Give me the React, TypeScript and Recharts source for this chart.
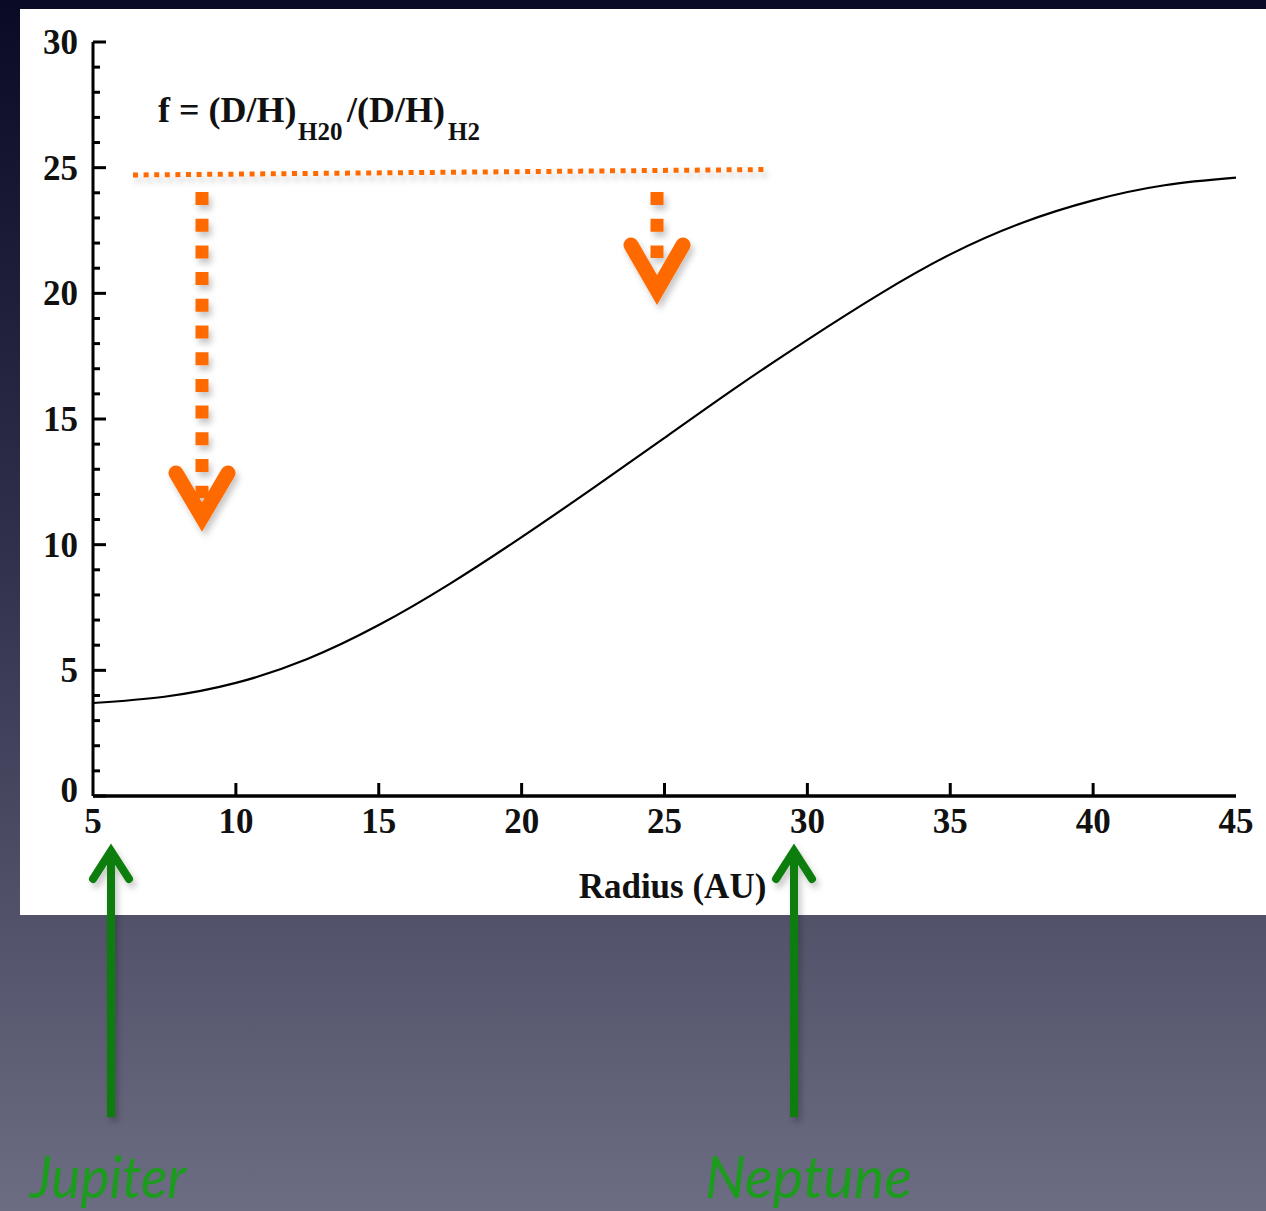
import React from 'react'
import { LineChart, Line, XAxis, YAxis, Label } from 'recharts'

// f = (D/H)H2O / (D/H)H2 against radius in AU
const radius = [5, 7.5, 10, 12.5, 15, 17.5, 20, 22.5, 25, 27.5, 30, 32.5, 35, 37.5, 40, 42.5, 45]
const fRatio = [3.7, 3.95, 4.5, 5.45, 6.8, 8.45, 10.3, 12.25, 14.25, 16.25, 18.15, 19.95, 21.55, 22.8, 23.7, 24.3, 24.6]

const xTicks = [5, 10, 15, 20, 25, 30, 35, 40, 45]
const yTicks = [
  0, 1, 2, 3, 4, 5, 6, 7, 8, 9, 10, 11, 12, 13, 14, 15, 16, 17, 18, 19, 20,
  21, 22, 23, 24, 25, 26, 27, 28, 29, 30,
]

const data = radius.map((r, i) => ({ r, f: fRatio[i] }))

const W = 1266
const H = 1211
const SERIF = '"Liberation Serif", "Times New Roman", serif'
const ORANGE = '#ff6a00'
const GREEN = '#0c7d0c'

const labelStyle = {
  fontFamily: SERIF,
  fontWeight: 700,
  fontSize: 35,
  fill: '#111',
}

function BottomTick(props: any) {
  const { x, y, payload } = props
  const v = payload.value
  const inner = v !== 5 && v !== 45
  return (
    <g>
      {inner && <line x1={x} y1={y} x2={x} y2={y - 13} stroke="#000" strokeWidth={3} />}
      <text x={x} y={y + 37} textAnchor="middle" style={labelStyle}>
        {v}
      </text>
    </g>
  )
}

function TopTick(props: any) {
  const { x, y, payload } = props
  const v = payload.value
  if (v === 5 || v === 45) return <g />
  return <line x1={x} y1={y} x2={x} y2={y + 13} stroke="#222" strokeWidth={2.5} />
}

function LeftTick(props: any) {
  const { x, y, payload } = props
  const v = payload.value
  const major = v % 5 === 0
  return (
    <g>
      <line x1={x} y1={y} x2={x + (major ? 13 : 7)} y2={y} stroke="#000" strokeWidth={3} />
      {major && (
        <text x={x - 15} y={y + (v === 0 ? 6 : 12)} textAnchor="end" style={labelStyle}>
          {v}
        </text>
      )}
    </g>
  )
}

function RightTick(props: any) {
  const { x, y, payload } = props
  const v = payload.value
  const major = v % 5 === 0
  return <line x1={x} y1={y} x2={x - (major ? 16 : 7)} y2={y} stroke="#000" strokeWidth={3} />
}

function Overlay() {
  return (
    <svg
      width={W}
      height={H}
      style={{ position: 'absolute', left: 0, top: 0, pointerEvents: 'none' }}
    >
      <defs>
        <filter id="sh" x="-20%" y="-20%" width="140%" height="140%">
          <feDropShadow dx="3" dy="5" stdDeviation="3" floodColor="#000" floodOpacity="0.22" />
        </filter>
      </defs>

      {/* formula */}
      <g style={{ fontFamily: SERIF, fontWeight: 700, fill: '#111' }}>
        <text x={158} y={122} fontSize={36}>f = (D/H)</text>
        <text x={298} y={140} fontSize={25}>H20</text>
        <text x={347} y={122} fontSize={36}>/(D/H)</text>
        <text x={448} y={140} fontSize={25}>H2</text>
      </g>

      {/* orange upper limits */}
      <g filter="url(#sh)" fill="none" stroke={ORANGE}>
        <line x1={133} y1={175} x2={768} y2={169.5} strokeWidth={5} strokeDasharray="5 5.6" />
        <line x1={202} y1={192} x2={202} y2={498} strokeWidth={13} strokeDasharray="13 13.7" />
        <polyline points="176,473 202,517 228,473" strokeWidth={15} strokeLinecap="round" strokeLinejoin="miter" />
        <line x1={657} y1={192} x2={657} y2={258} strokeWidth={13} strokeDasharray="13 13.7" />
        <polyline points="631,245 657,290 683,245" strokeWidth={15} strokeLinecap="round" strokeLinejoin="miter" />
      </g>

      {/* planets */}
      <g filter="url(#sh)" fill="none" stroke={GREEN} strokeWidth={8}>
        <line x1={111} y1={1117} x2={111} y2={856} />
        <polyline points="93,879 111,851 129,879" strokeLinecap="round" strokeLinejoin="miter" />
        <line x1={794} y1={1117} x2={794} y2={856} />
        <polyline points="776,879 794,851 812,879" strokeLinecap="round" strokeLinejoin="miter" />
      </g>
      <g style={{ fontFamily: 'Lato, "Open Sans", sans-serif', fontStyle: 'italic', fill: '#1c9c1c' }}>
        <text x={30} y={1198} fontSize={58} textLength={156} lengthAdjust="spacingAndGlyphs">
          Jupiter
        </text>
        <text x={705} y={1198} fontSize={58} textLength={207} lengthAdjust="spacingAndGlyphs">
          Neptune
        </text>
      </g>
    </svg>
  )
}

export default function App() {
  return (
    <div
      style={{
        position: 'absolute',
        left: 0,
        top: 0,
        width: W,
        height: H,
        overflow: 'hidden',
        background: 'linear-gradient(180deg, #0a0a24 0%, #30304c 45%, #6c6c82 100%)',
      }}
    >
      <div
        style={{
          position: 'absolute',
          left: 20,
          top: 9,
          width: W - 20,
          height: 906,
          background: '#fff',
        }}
      />
      <div style={{ position: 'absolute', left: 0, top: 0 }}>
        <LineChart width={W} height={H} data={data} margin={{ top: 42, right: 30, bottom: 305, left: 20 }}>
          <XAxis
            dataKey="r"
            type="number"
            domain={[5, 45]}
            ticks={xTicks}
            interval={0}
            height={110}
            tickSize={0}
            tickMargin={0}
            tick={<BottomTick />}
            axisLine={{ stroke: '#000', strokeWidth: 3.5 }}
            tickLine={false}
          >
            <Label
              value="Radius (AU)"
              position="insideBottom"
              offset={8}
              dx={8}
              style={{ fontFamily: SERIF, fontWeight: 700, fontSize: 35, fill: '#111' }}
            />
          </XAxis>
          <XAxis
            xAxisId="top"
            dataKey="r"
            type="number"
            orientation="top"
            domain={[5, 45]}
            ticks={xTicks}
            interval={0}
            height={0}
            tickSize={0}
            tickMargin={0}
            tick={<TopTick />}
            axisLine={{ stroke: '#333', strokeWidth: 2 }}
            tickLine={false}
          />
          <YAxis
            type="number"
            domain={[0, 30]}
            ticks={yTicks}
            interval={0}
            width={73}
            tickSize={0}
            tickMargin={0}
            tick={<LeftTick />}
            axisLine={{ stroke: '#000', strokeWidth: 3 }}
            tickLine={false}
          />
          <YAxis
            yAxisId="right"
            orientation="right"
            type="number"
            domain={[0, 30]}
            ticks={yTicks}
            interval={0}
            width={0}
            tickSize={0}
            tickMargin={0}
            tick={<RightTick />}
            axisLine={{ stroke: '#000', strokeWidth: 3 }}
            tickLine={false}
          />
          <Line
            dataKey="f"
            type="natural"
            stroke="#000"
            strokeWidth={2.2}
            dot={false}
            isAnimationActive={false}
          />
        </LineChart>
      </div>
      <Overlay />
    </div>
  )
}
